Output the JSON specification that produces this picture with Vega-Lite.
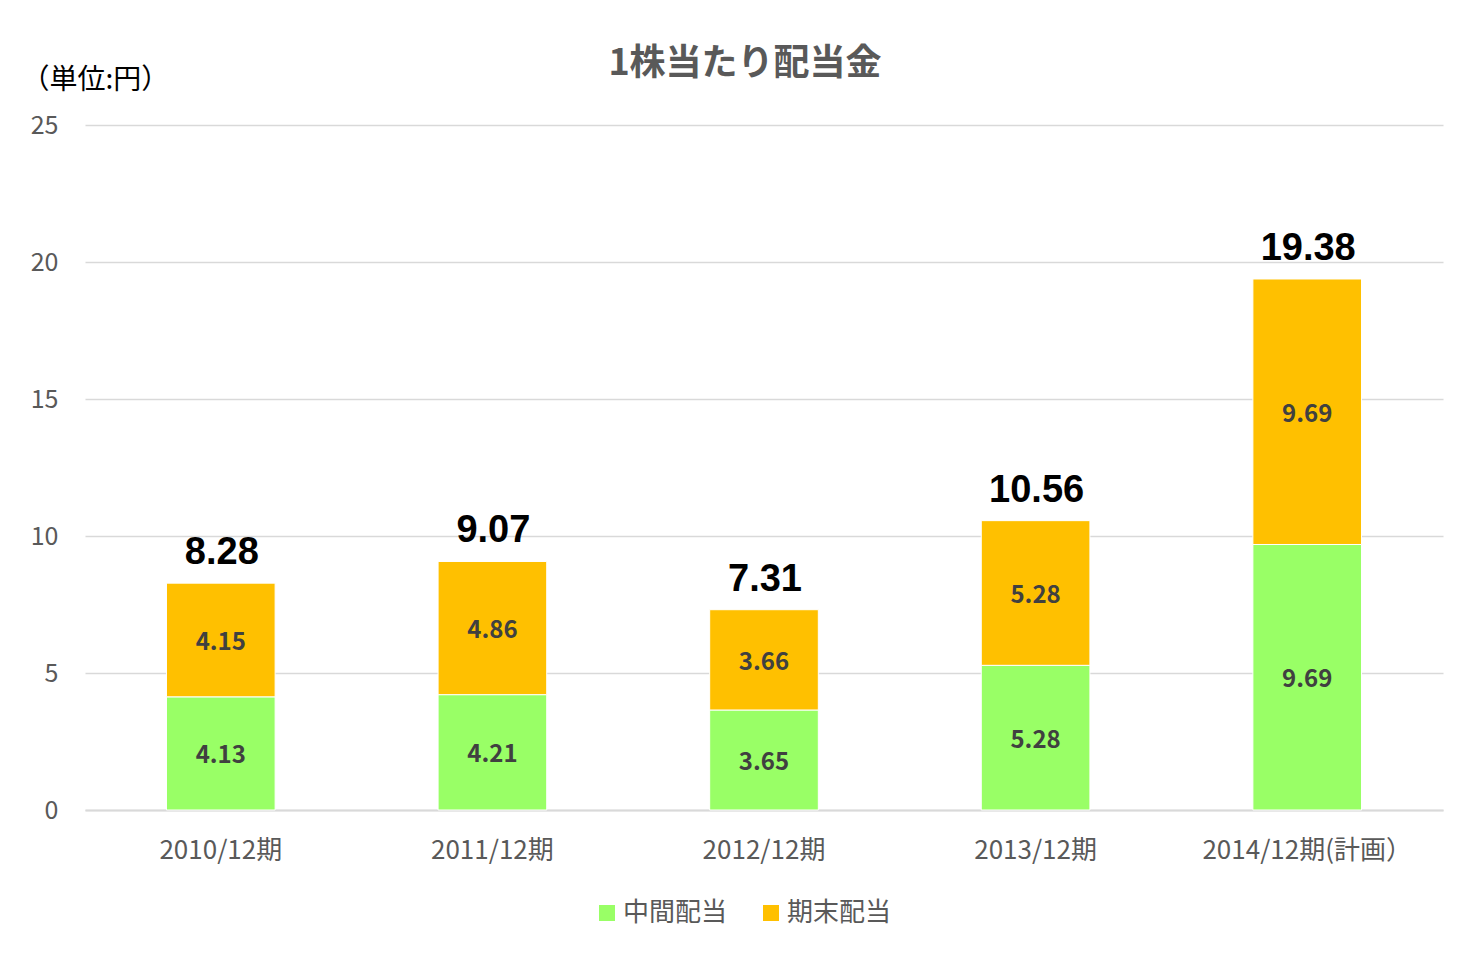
{
  "$schema": "https://vega.github.io/schema/vega-lite/v6.json",
  "autosize": {"type": "none"},
  "width": 1358,
  "height": 685,
  "padding": {"left": 85, "top": 125, "right": 20, "bottom": 143},
  "background": "white",
  "config": {"view": {"stroke": null}},
  "title": {
    "text": "1株当たり配当金",
    "font": "Noto Sans CJK JP",
    "fontSize": 36,
    "fontWeight": "bold",
    "color": "#595959",
    "anchor": "middle",
    "frame": "group",
    "dx": -19,
    "offset": -17
  },
  "data": {
    "values": [
      {"period": "2010/12期", "type": "中間配当", "value": 4.13},
      {"period": "2010/12期", "type": "期末配当", "value": 4.15},
      {"period": "2011/12期", "type": "中間配当", "value": 4.21},
      {"period": "2011/12期", "type": "期末配当", "value": 4.86},
      {"period": "2012/12期", "type": "中間配当", "value": 3.65},
      {"period": "2012/12期", "type": "期末配当", "value": 3.66},
      {"period": "2013/12期", "type": "中間配当", "value": 5.28},
      {"period": "2013/12期", "type": "期末配当", "value": 5.28},
      {"period": "2014/12期(計画）", "type": "中間配当", "value": 9.69},
      {"period": "2014/12期(計画）", "type": "期末配当", "value": 9.69}
    ]
  },
  "encoding": {
    "x": {
      "field": "period",
      "type": "nominal",
      "sort": null,
      "scale": {"paddingInner": 0.6, "paddingOuter": 0.3},
      "axis": {
        "title": null,
        "labelAngle": 0,
        "labelLimit": 0,
        "labelFont": "Noto Sans CJK JP",
        "labelFontSize": 26,
        "labelColor": "#595959",
        "labelPadding": 27,
        "ticks": false,
        "domainColor": "#d9d9d9",
        "domainWidth": 2,
        "grid": false
      }
    }
  },
  "resolve": {"scale": {"y": "shared"}},
  "layer": [
    {
      "mark": {"type": "bar", "stroke": "white", "strokeWidth": 1},
      "encoding": {
        "y": {
          "field": "value",
          "type": "quantitative",
          "stack": "zero",
          "scale": {"domain": [0, 25], "nice": false},
          "axis": {
            "values": [0, 5, 10, 15, 20, 25],
            "title": "（単位:円）",
            "titleAngle": 0,
            "titleAlign": "left",
            "titleBaseline": "middle",
            "titleX": -64,
            "titleY": -45,
            "titleFont": "Noto Sans CJK JP",
            "titleFontSize": 28,
            "titleFontWeight": "normal",
            "titleColor": "#000000",
            "labelFont": "Noto Sans CJK JP",
            "labelFontSize": 25,
            "labelColor": "#595959",
            "labelPadding": 27,
            "ticks": false,
            "domain": false,
            "gridColor": "#d9d9d9",
            "gridWidth": 1.5
          }
        },
        "color": {
          "field": "type",
          "type": "nominal",
          "scale": {"domain": ["中間配当", "期末配当"], "range": ["#99FF66", "#FFC000"]},
          "legend": {
            "title": null,
            "orient": "none",
            "direction": "horizontal",
            "legendX": 509,
            "legendY": 775,
            "symbolType": "square",
            "symbolSize": 256,
            "symbolStrokeWidth": 0,
            "labelFont": "Noto Sans CJK JP",
            "labelFontSize": 26,
            "labelColor": "#595959",
            "labelOffset": 3,
            "columnPadding": 30
          }
        },
        "order": {"field": "type", "sort": "ascending"}
      }
    },
    {
      "transform": [
        {"stack": "value", "groupby": ["period"], "sort": [{"field": "type", "order": "ascending"}], "as": ["v0", "v1"]},
        {"calculate": "(datum.v0 + datum.v1) / 2", "as": "mid"}
      ],
      "mark": {"type": "text", "font": "Noto Sans CJK JP", "fontSize": 24, "fontWeight": "bold", "color": "#404040", "baseline": "middle", "dy": 3},
      "encoding": {
        "y": {"field": "mid", "type": "quantitative", "scale": {"domain": [0, 25], "nice": false}},
        "text": {"field": "value", "type": "quantitative", "format": ".2f"}
      }
    },
    {
      "mark": {"type": "text", "font": "Liberation Sans", "fontSize": 38, "fontWeight": "bold", "color": "#000000", "baseline": "alphabetic", "dy": -19, "dx": 1},
      "encoding": {
        "y": {"aggregate": "sum", "field": "value", "type": "quantitative", "scale": {"domain": [0, 25], "nice": false}},
        "text": {"aggregate": "sum", "field": "value", "type": "quantitative", "format": ".2f"}
      }
    }
  ]
}
